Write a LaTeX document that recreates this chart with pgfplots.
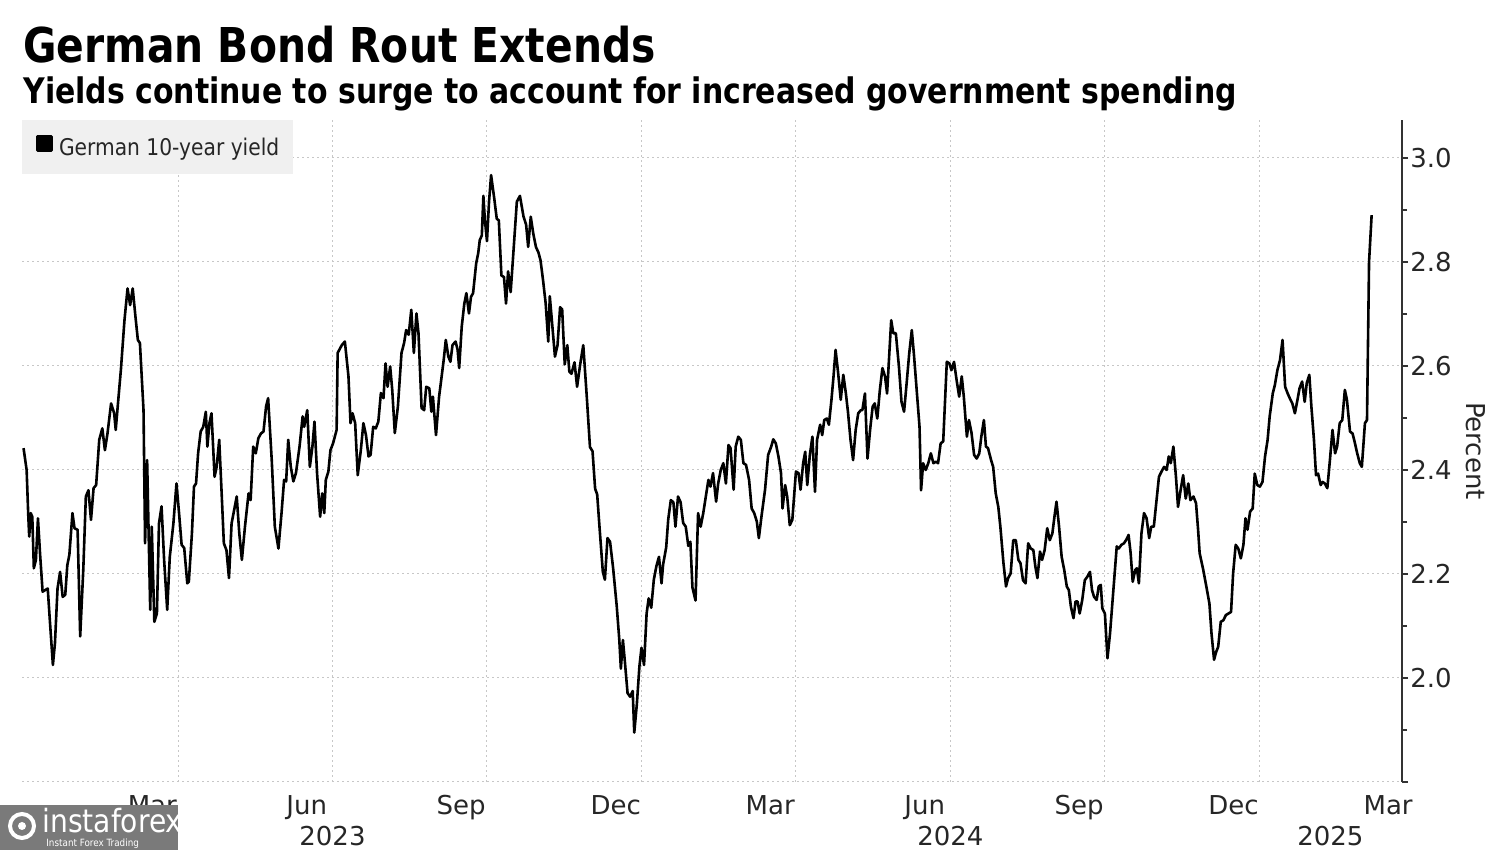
\documentclass[border=0pt]{standalone}
\usepackage{fontspec}
\setmainfont{DejaVu Sans}
\newfontfamily\titlefont[FakeStretch=0.85]{DejaVu Sans}
\newfontfamily\condfont[FakeStretch=0.88]{DejaVu Sans}
\usepackage{pgfplots}
\pgfplotsset{compat=1.18}
\begin{document}
\begin{tikzpicture}
\path[use as bounding box] (0,0) rectangle (750pt,425pt);
\node[anchor=base west, inner sep=0pt] at (11.5pt,393.5pt) {\titlefont\bfseries\fontsize{24}{28}\selectfont German Bond Rout Extends};
\node[anchor=base west, inner sep=0pt] at (11.5pt,373pt) {\titlefont\bfseries\fontsize{17.6}{20}\selectfont Yields continue to surge to account for increased government spending};
\begin{axis}[
  at={(11pt,34pt)}, anchor=south west,
  scale only axis, width=690pt, height=331pt,
  xmin=-0.03, xmax=26.77, ymin=1.8, ymax=3.073,
  axis y line*=right, axis x line*=bottom,
  x axis line style={draw=none},
  y axis line style={black!80, line width=1pt},
  ytick={1.8,2,2.2,2.4,2.6,2.8,3},
  yticklabels={,2.0,2.2,2.4,2.6,2.8,3.0},
  minor ytick={1.9,2.1,2.3,2.5,2.7,2.9},
  tick align=outside,
  major tick length=3pt, minor tick length=2.5pt,
  every tick/.style={black!80, line width=0.8pt},
  ymajorgrids,
  major grid style={black!22, line width=0.5pt, dash pattern=on 1pt off 1.5pt},
  xtick={2.5,5.5,8.5,11.5,14.5,17.5,20.5,23.5,26.5},
  xticklabels={Mar,Jun,Sep,Dec,Mar,Jun,Sep,Dec,Mar},
  major x tick style={draw=none},
  extra x ticks={3,6,9,12,15,18,21,24},
  extra x tick labels={},
  extra x tick style={grid=major, major tick length=0pt},
  tick label style={font=\fontsize{13}{15}\selectfont, text=black!85},
  xticklabel style={inner sep=0pt, yshift=-3.5pt},
  yticklabel style={inner sep=0pt, xshift=1pt},
  ylabel={Percent},
  ylabel style={at={(axis description cs:1.0535,0.5)}, anchor=center, rotate=180, font=\fontsize{13}{15}\selectfont, text=black!85},
  legend style={at={(0,1)}, anchor=north west, fill=black!6, draw=none,
    font=\condfont\fontsize{11.5}{13}\selectfont, text=black!85,
    inner xsep=7pt, inner ysep=7.5pt, nodes={inner sep=0pt}, column sep=3pt},
  legend image code/.code={\fill[black] (0pt,-1pt) rectangle (7pt,6pt);},
  clip=false,
]
\addplot[black, line width=1.3pt, line join=round] table {
0.00 2.442
0.06 2.40
0.09 2.317
0.11 2.272
0.14 2.317
0.17 2.31
0.20 2.211
0.24 2.227
0.28 2.307
0.32 2.24
0.37 2.166
0.42 2.169
0.47 2.172
0.51 2.112
0.57 2.025
0.61 2.067
0.66 2.172
0.71 2.204
0.76 2.156
0.81 2.16
0.85 2.217
0.89 2.237
0.95 2.317
0.99 2.288
1.05 2.285
1.10 2.08
1.16 2.208
1.21 2.349
1.26 2.361
1.31 2.304
1.36 2.365
1.41 2.371
1.47 2.458
1.53 2.48
1.58 2.438
1.63 2.47
1.70 2.528
1.76 2.509
1.79 2.477
1.84 2.535
1.89 2.592
1.96 2.688
2.02 2.749
2.07 2.717
2.12 2.749
2.17 2.698
2.22 2.65
2.26 2.644
2.33 2.515
2.36 2.259
2.40 2.419
2.46 2.131
2.49 2.291
2.54 2.108
2.59 2.124
2.63 2.297
2.68 2.33
2.73 2.227
2.79 2.131
2.84 2.233
2.91 2.297
2.97 2.374
3.02 2.317
3.07 2.256
3.12 2.25
3.18 2.182
3.21 2.185
3.27 2.278
3.31 2.368
3.35 2.374
3.39 2.432
3.44 2.474
3.49 2.483
3.54 2.512
3.57 2.445
3.61 2.49
3.65 2.509
3.71 2.387
3.75 2.406
3.80 2.458
3.85 2.349
3.89 2.259
3.94 2.246
3.99 2.192
4.04 2.297
4.09 2.323
4.14 2.349
4.19 2.278
4.24 2.227
4.30 2.291
4.37 2.355
4.41 2.342
4.46 2.445
4.51 2.432
4.56 2.461
4.61 2.47
4.66 2.474
4.71 2.522
4.75 2.538
4.82 2.419
4.88 2.291
4.95 2.249
5.01 2.317
5.06 2.381
5.10 2.378
5.14 2.458
5.19 2.406
5.24 2.378
5.29 2.394
5.36 2.445
5.42 2.503
5.45 2.483
5.51 2.515
5.56 2.406
5.61 2.445
5.65 2.493
5.70 2.394
5.76 2.31
5.80 2.355
5.84 2.317
5.87 2.381
5.92 2.397
5.96 2.438
6.01 2.451
6.08 2.477
6.10 2.625
6.18 2.64
6.24 2.647
6.31 2.58
6.35 2.49
6.39 2.509
6.44 2.49
6.49 2.39
6.55 2.438
6.60 2.49
6.65 2.467
6.70 2.426
6.74 2.429
6.79 2.483
6.84 2.48
6.89 2.493
6.94 2.548
6.99 2.538
7.03 2.605
7.07 2.56
7.12 2.599
7.16 2.554
7.21 2.471
7.27 2.522
7.34 2.625
7.39 2.644
7.43 2.669
7.48 2.66
7.53 2.708
7.58 2.625
7.63 2.701
7.67 2.663
7.73 2.519
7.78 2.515
7.82 2.56
7.88 2.557
7.92 2.512
7.95 2.541
8.01 2.467
8.07 2.541
8.12 2.58
8.16 2.612
8.20 2.65
8.25 2.618
8.29 2.608
8.33 2.64
8.39 2.647
8.43 2.631
8.46 2.596
8.51 2.676
8.56 2.72
8.60 2.74
8.65 2.701
8.69 2.733
8.73 2.74
8.79 2.797
8.83 2.817
8.86 2.842
8.90 2.851
8.93 2.927
8.96 2.88
9.00 2.84
9.04 2.916
9.08 2.967
9.14 2.923
9.19 2.883
9.23 2.88
9.28 2.774
9.33 2.771
9.37 2.72
9.41 2.782
9.46 2.742
9.51 2.814
9.58 2.916
9.64 2.927
9.71 2.887
9.76 2.872
9.80 2.829
9.85 2.887
9.90 2.854
9.95 2.829
10.00 2.818
10.04 2.803
10.09 2.764
10.14 2.72
10.19 2.647
10.22 2.734
10.27 2.676
10.32 2.618
10.37 2.64
10.42 2.713
10.46 2.709
10.51 2.603
10.56 2.64
10.60 2.589
10.64 2.585
10.70 2.607
10.75 2.56
10.81 2.603
10.87 2.64
10.94 2.538
11.00 2.444
11.05 2.436
11.10 2.364
11.14 2.353
11.19 2.284
11.25 2.204
11.29 2.189
11.34 2.269
11.39 2.262
11.45 2.211
11.52 2.138
11.57 2.073
11.60 2.018
11.64 2.073
11.68 2.029
11.73 1.971
11.78 1.964
11.83 1.975
11.86 1.895
11.91 1.949
11.96 2.022
12.00 2.058
12.05 2.025
12.10 2.124
12.14 2.153
12.19 2.135
12.24 2.189
12.29 2.215
12.34 2.233
12.39 2.182
12.42 2.218
12.48 2.251
12.52 2.305
12.57 2.342
12.62 2.338
12.66 2.291
12.71 2.349
12.76 2.338
12.81 2.298
12.86 2.291
12.91 2.254
12.95 2.262
12.99 2.174
13.05 2.149
13.10 2.317
13.15 2.291
13.20 2.317
13.25 2.349
13.30 2.381
13.34 2.368
13.39 2.394
13.45 2.339
13.49 2.374
13.54 2.40
13.59 2.413
13.64 2.374
13.69 2.448
13.73 2.442
13.79 2.362
13.83 2.445
13.88 2.464
13.93 2.458
13.98 2.413
14.03 2.41
14.09 2.381
14.14 2.326
14.19 2.317
14.24 2.301
14.28 2.269
14.33 2.31
14.40 2.362
14.46 2.429
14.52 2.445
14.56 2.459
14.61 2.451
14.66 2.426
14.71 2.394
14.74 2.326
14.79 2.371
14.83 2.349
14.88 2.294
14.93 2.304
15.00 2.397
15.05 2.394
15.09 2.362
15.14 2.413
15.18 2.435
15.22 2.371
15.27 2.429
15.32 2.464
15.37 2.358
15.41 2.458
15.47 2.487
15.51 2.467
15.55 2.496
15.60 2.499
15.64 2.487
15.69 2.535
15.73 2.58
15.77 2.631
15.82 2.586
15.87 2.535
15.92 2.583
15.97 2.547
16.01 2.512
16.06 2.458
16.11 2.419
16.16 2.477
16.21 2.509
16.26 2.515
16.29 2.515
16.34 2.547
16.39 2.422
16.44 2.477
16.49 2.522
16.53 2.528
16.58 2.499
16.63 2.554
16.68 2.596
16.73 2.58
16.77 2.547
16.81 2.618
16.85 2.688
16.89 2.663
16.94 2.663
17.00 2.599
17.05 2.531
17.10 2.512
17.15 2.567
17.20 2.624
17.25 2.669
17.29 2.624
17.34 2.56
17.40 2.483
17.43 2.361
17.47 2.413
17.52 2.40
17.57 2.413
17.62 2.432
17.67 2.413
17.72 2.416
17.76 2.413
17.81 2.451
17.86 2.455
17.93 2.608
17.98 2.605
18.02 2.592
18.07 2.608
18.12 2.573
18.17 2.541
18.22 2.58
18.26 2.541
18.32 2.464
18.36 2.496
18.41 2.471
18.46 2.429
18.51 2.422
18.56 2.432
18.60 2.464
18.65 2.496
18.69 2.445
18.73 2.442
18.79 2.419
18.83 2.406
18.88 2.355
18.93 2.329
18.97 2.291
19.03 2.221
19.08 2.176
19.12 2.192
19.17 2.201
19.22 2.265
19.27 2.265
19.32 2.227
19.36 2.221
19.41 2.188
19.46 2.182
19.51 2.259
19.56 2.249
19.61 2.246
19.65 2.214
19.69 2.192
19.74 2.243
19.78 2.227
19.83 2.246
19.88 2.288
19.93 2.265
19.98 2.278
20.02 2.31
20.06 2.339
20.11 2.291
20.16 2.233
20.21 2.208
20.26 2.176
20.30 2.169
20.34 2.137
20.39 2.115
20.43 2.147
20.47 2.147
20.51 2.124
20.56 2.15
20.61 2.188
20.66 2.195
20.71 2.204
20.75 2.169
20.79 2.156
20.84 2.15
20.88 2.176
20.92 2.179
20.95 2.134
21.00 2.124
21.05 2.038
21.10 2.086
21.16 2.163
21.23 2.253
21.27 2.249
21.32 2.256
21.37 2.259
21.41 2.265
21.46 2.275
21.50 2.24
21.54 2.185
21.59 2.208
21.62 2.211
21.66 2.182
21.71 2.278
21.76 2.317
21.81 2.307
21.86 2.269
21.90 2.291
21.95 2.291
22.05 2.387
22.10 2.397
22.15 2.406
22.20 2.40
22.24 2.426
22.28 2.413
22.33 2.445
22.38 2.387
22.42 2.329
22.47 2.361
22.52 2.39
22.57 2.345
22.62 2.374
22.66 2.342
22.72 2.349
22.77 2.336
22.81 2.285
22.84 2.24
22.91 2.208
22.97 2.176
23.03 2.143
23.07 2.086
23.12 2.035
23.16 2.05
23.20 2.06
23.25 2.108
23.30 2.111
23.35 2.121
23.40 2.124
23.45 2.127
23.49 2.201
23.54 2.256
23.59 2.249
23.64 2.23
23.69 2.256
23.73 2.307
23.77 2.285
23.82 2.32
23.87 2.326
23.91 2.393
23.96 2.371
24.01 2.368
24.06 2.377
24.11 2.426
24.16 2.458
24.20 2.503
24.26 2.547
24.30 2.563
24.35 2.592
24.40 2.611
24.45 2.65
24.50 2.56
24.55 2.547
24.59 2.538
24.64 2.528
24.69 2.509
24.74 2.535
24.78 2.557
24.83 2.57
24.88 2.531
24.92 2.567
24.97 2.583
25.01 2.522
25.06 2.458
25.10 2.39
25.14 2.393
25.19 2.371
25.23 2.377
25.27 2.374
25.32 2.365
25.37 2.419
25.42 2.477
25.47 2.432
25.51 2.445
25.56 2.49
25.61 2.496
25.66 2.554
25.70 2.535
25.76 2.474
25.81 2.47
25.85 2.454
25.90 2.432
25.95 2.413
25.99 2.406
26.05 2.49
26.09 2.496
26.13 2.8
26.18 2.89
};
\addlegendentry{German 10-year yield}
\node[anchor=north, inner sep=0pt, font=\fontsize{13}{15}\selectfont, text=black!85] at (axis cs:6,1.8) [yshift=-22pt] {2023};
\node[anchor=north, inner sep=0pt, font=\fontsize{13}{15}\selectfont, text=black!85] at (axis cs:18,1.8) [yshift=-22pt] {2024};
\node[anchor=north, inner sep=0pt, font=\fontsize{13}{15}\selectfont, text=black!85] at (axis cs:25.38,1.8) [yshift=-22pt] {2025};
\end{axis}
\fill[black!52] (0,0) rectangle (89pt,22.5pt);
\draw[white, line width=2pt] (11pt,12pt) circle (6pt);
\fill[white] (11pt,12pt) circle (2pt);
\node[anchor=base west, inner sep=0pt, text=white, font=\condfont\fontsize{16}{16}\selectfont] at (21pt,8.5pt) {instaforex};
\node[anchor=base west, inner sep=0pt, text=white, font=\condfont\fontsize{5}{5}\selectfont] at (23pt,1.8pt) {Instant Forex Trading};
\end{tikzpicture}
\end{document}
